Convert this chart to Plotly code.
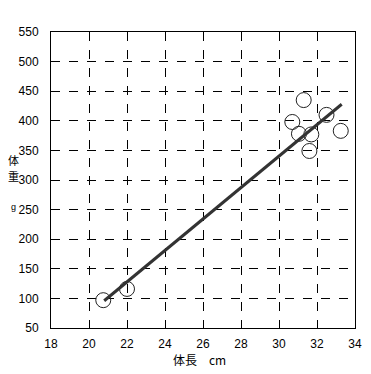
import plotly.graph_objects as go

# Data
body_length_cm = [20.75, 22.0, 31.3, 32.5, 30.7, 31.05, 31.7, 33.25, 31.6]
body_weight_g = [97, 116, 435, 410, 398, 378, 377, 383, 349]

trend_x = [20.8, 33.3]
trend_y = [96, 428]

x_ticks = [18, 20, 22, 24, 26, 28, 30, 32, 34]
y_ticks = [50, 100, 150, 200, 250, 300, 350, 400, 450, 500, 550]

num_font = "Liberation Sans, Arial, sans-serif"
jp_font = "Noto Sans CJK JP, sans-serif"

fig = go.Figure()
fig.add_trace(go.Scatter(
    x=body_length_cm, y=body_weight_g, mode="markers",
    marker=dict(symbol="circle-open", size=15, color="#222222", line=dict(width=1, color="#222222")),
    showlegend=False, hoverinfo="skip",
))
fig.add_trace(go.Scatter(
    x=trend_x, y=trend_y, mode="lines",
    line=dict(color="#333333", width=3),
    showlegend=False, hoverinfo="skip",
))

axis_common = dict(
    showline=True, linecolor="black", linewidth=1, mirror=True,
    showgrid=True, gridcolor="black", gridwidth=1, griddash="dash",
    zeroline=False, automargin=False,
    ticks="outside", tickcolor="rgba(0,0,0,0)",
    tickfont=dict(family=num_font, size=12, color="black"),
)

ann = dict(xref="paper", yref="paper", showarrow=False, xanchor="center", yanchor="middle")

# Page body has an 8px margin, so the figure is offset and sized to fit.
fig.update_layout(
    width=363, height=366,
    margin=dict(l=43, r=16, t=24, b=46),
    paper_bgcolor="white", plot_bgcolor="white",
    xaxis=dict(range=[18, 34], tickvals=x_ticks, ticktext=[str(v) for v in x_ticks], ticklen=5, **axis_common),
    yaxis=dict(range=[50, 550], tickvals=y_ticks, ticktext=[str(v) for v in y_ticks], ticklen=9, **axis_common),
    annotations=[
        dict(text="体", x=-0.122, y=0.568, font=dict(family=jp_font, size=11, color="black"), **ann),
        dict(text="重", x=-0.122, y=0.513, font=dict(family=jp_font, size=11, color="black"), **ann),
        dict(text="g", x=-0.122, y=0.409, font=dict(family=num_font, size=9, color="black"), **ann),
        dict(text="体長\u3000cm", x=0.49, y=-0.108, font=dict(family=jp_font, size=12, color="black"), **ann),
    ],
)

fig.write_html("out.html")
